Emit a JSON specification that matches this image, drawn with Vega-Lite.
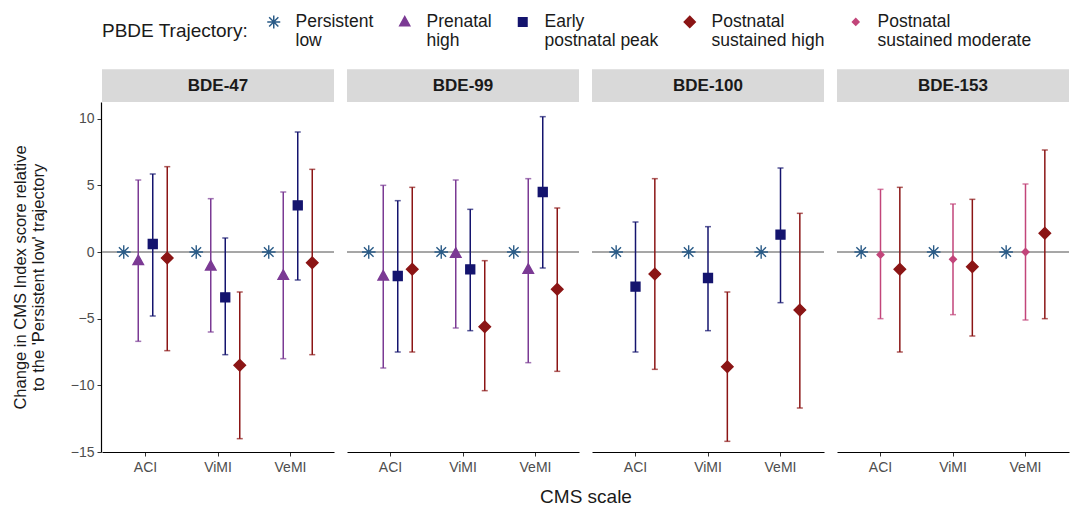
{
  "$schema": "https://vega.github.io/schema/vega-lite/v6.json",
  "padding": {"left": 12, "top": 13, "right": 10, "bottom": 4},
  "background": "white",
  "config": {
    "view": {"stroke": null},
    "font": "Liberation Sans",
    "axis": {"grid": false, "domainColor": "#000000", "tickColor": "#333333", "labelColor": "#4d4d4d", "labelFontSize": 14, "titleColor": "#1a1a1a", "titleFontWeight": "normal"}
  },
  "data": {
    "values": [
      {"congener": "BDE-47", "scale": "ACI", "traj": "Persistent low", "est": 0},
      {"congener": "BDE-47", "scale": "ViMI", "traj": "Persistent low", "est": 0},
      {"congener": "BDE-47", "scale": "VeMI", "traj": "Persistent low", "est": 0},
      {"congener": "BDE-99", "scale": "ACI", "traj": "Persistent low", "est": 0},
      {"congener": "BDE-99", "scale": "ViMI", "traj": "Persistent low", "est": 0},
      {"congener": "BDE-99", "scale": "VeMI", "traj": "Persistent low", "est": 0},
      {"congener": "BDE-100", "scale": "ACI", "traj": "Persistent low", "est": 0},
      {"congener": "BDE-100", "scale": "ViMI", "traj": "Persistent low", "est": 0},
      {"congener": "BDE-100", "scale": "VeMI", "traj": "Persistent low", "est": 0},
      {"congener": "BDE-153", "scale": "ACI", "traj": "Persistent low", "est": 0},
      {"congener": "BDE-153", "scale": "ViMI", "traj": "Persistent low", "est": 0},
      {"congener": "BDE-153", "scale": "VeMI", "traj": "Persistent low", "est": 0},

      {"congener": "BDE-47", "scale": "ACI", "traj": "Prenatal high", "est": -0.65, "lo": -6.7, "hi": 5.4},
      {"congener": "BDE-47", "scale": "ACI", "traj": "Early postnatal peak", "est": 0.6, "lo": -4.8, "hi": 5.85},
      {"congener": "BDE-47", "scale": "ACI", "traj": "Postnatal sustained high", "est": -0.45, "lo": -7.4, "hi": 6.4},
      {"congener": "BDE-47", "scale": "ViMI", "traj": "Prenatal high", "est": -1.05, "lo": -6.0, "hi": 4.0},
      {"congener": "BDE-47", "scale": "ViMI", "traj": "Early postnatal peak", "est": -3.4, "lo": -7.7, "hi": 1.05},
      {"congener": "BDE-47", "scale": "ViMI", "traj": "Postnatal sustained high", "est": -8.5, "lo": -14.0, "hi": -3.0},
      {"congener": "BDE-47", "scale": "VeMI", "traj": "Prenatal high", "est": -1.75, "lo": -8.0, "hi": 4.5},
      {"congener": "BDE-47", "scale": "VeMI", "traj": "Early postnatal peak", "est": 3.5, "lo": -2.1, "hi": 9.0},
      {"congener": "BDE-47", "scale": "VeMI", "traj": "Postnatal sustained high", "est": -0.8, "lo": -7.7, "hi": 6.2},

      {"congener": "BDE-99", "scale": "ACI", "traj": "Prenatal high", "est": -1.8, "lo": -8.7, "hi": 5.0},
      {"congener": "BDE-99", "scale": "ACI", "traj": "Early postnatal peak", "est": -1.8, "lo": -7.5, "hi": 3.85},
      {"congener": "BDE-99", "scale": "ACI", "traj": "Postnatal sustained high", "est": -1.3, "lo": -7.5, "hi": 4.85},
      {"congener": "BDE-99", "scale": "ViMI", "traj": "Prenatal high", "est": -0.1, "lo": -5.7, "hi": 5.4},
      {"congener": "BDE-99", "scale": "ViMI", "traj": "Early postnatal peak", "est": -1.3, "lo": -5.9, "hi": 3.2},
      {"congener": "BDE-99", "scale": "ViMI", "traj": "Postnatal sustained high", "est": -5.6, "lo": -10.4, "hi": -0.65},
      {"congener": "BDE-99", "scale": "VeMI", "traj": "Prenatal high", "est": -1.3, "lo": -8.3, "hi": 5.5},
      {"congener": "BDE-99", "scale": "VeMI", "traj": "Early postnatal peak", "est": 4.5, "lo": -1.2, "hi": 10.15},
      {"congener": "BDE-99", "scale": "VeMI", "traj": "Postnatal sustained high", "est": -2.8, "lo": -8.95, "hi": 3.3},

      {"congener": "BDE-100", "scale": "ACI", "traj": "Early postnatal peak", "est": -2.6, "lo": -7.5, "hi": 2.25},
      {"congener": "BDE-100", "scale": "ACI", "traj": "Postnatal sustained high", "est": -1.65, "lo": -8.8, "hi": 5.5},
      {"congener": "BDE-100", "scale": "ViMI", "traj": "Early postnatal peak", "est": -1.95, "lo": -5.9, "hi": 1.9},
      {"congener": "BDE-100", "scale": "ViMI", "traj": "Postnatal sustained high", "est": -8.6, "lo": -14.2, "hi": -3.0},
      {"congener": "BDE-100", "scale": "VeMI", "traj": "Early postnatal peak", "est": 1.3, "lo": -3.8, "hi": 6.3},
      {"congener": "BDE-100", "scale": "VeMI", "traj": "Postnatal sustained high", "est": -4.35, "lo": -11.7, "hi": 2.9},

      {"congener": "BDE-153", "scale": "ACI", "traj": "Postnatal sustained moderate", "est": -0.2, "lo": -5.0, "hi": 4.7},
      {"congener": "BDE-153", "scale": "ACI", "traj": "Postnatal sustained high", "est": -1.3, "lo": -7.5, "hi": 4.85},
      {"congener": "BDE-153", "scale": "ViMI", "traj": "Postnatal sustained moderate", "est": -0.55, "lo": -4.7, "hi": 3.6},
      {"congener": "BDE-153", "scale": "ViMI", "traj": "Postnatal sustained high", "est": -1.1, "lo": -6.3, "hi": 3.95},
      {"congener": "BDE-153", "scale": "VeMI", "traj": "Postnatal sustained moderate", "est": 0.0, "lo": -5.1, "hi": 5.1},
      {"congener": "BDE-153", "scale": "VeMI", "traj": "Postnatal sustained high", "est": 1.4, "lo": -5.0, "hi": 7.65}
    ]
  },
  "facet": {
    "column": {
      "field": "congener",
      "type": "nominal",
      "sort": ["BDE-47", "BDE-99", "BDE-100", "BDE-153"],
      "header": {"title": "CMS scale", "titleOrient": "bottom", "titleFontSize": 19, "titleColor": "#1a1a1a", "titleFontWeight": "normal", "titlePadding": 4, "labels": false}
    }
  },
  "spacing": 11,
  "resolve": {"scale": {"xOffset": "independent"}},
  "spec": {
    "width": 232,
    "height": 350,
    "encoding": {
      "x": {
        "field": "scale", "type": "nominal",
        "sort": ["ACI", "ViMI", "VeMI"],
        "scale": {"paddingInner": 0.2, "paddingOuter": 0.2},
        "axis": {"title": null, "labelAngle": 0, "labelPadding": 4, "tickSize": 4, "domainWidth": 1.2}
      },
      "xOffset": {
        "field": "traj", "type": "nominal",
        "sort": ["Persistent low", "Prenatal high", "Early postnatal peak", "Postnatal sustained moderate", "Postnatal sustained high"],
        "scale": {"paddingInner": 0, "paddingOuter": 0}
      }
    },
    "layer": [
      {
        "mark": {"type": "rect", "fill": "#d9d9d9", "clip": false},
        "transform": [{"aggregate": [{"op": "count", "as": "n"}], "groupby": ["congener"]}],
        "encoding": {
          "x": {"value": 0},
          "x2": {"value": "width"},
          "xOffset": null,
          "y": {"datum": 11.25, "type": "quantitative"},
          "y2": {"datum": 13.7}
        }
      },
      {
        "mark": {"type": "text", "fontWeight": "bold", "fontSize": 17, "color": "#1a1a1a", "font": "Liberation Sans", "baseline": "middle"},
        "transform": [{"aggregate": [{"op": "count", "as": "n"}], "groupby": ["congener"]}],
        "encoding": {
          "x": {"datum": "ViMI", "type": "nominal"},
          "xOffset": null,
          "y": {"datum": 12.45, "type": "quantitative"},
          "text": {"field": "congener"}
        }
      },
      {
        "mark": {"type": "rule", "color": "#a6a6a6", "strokeWidth": 1},
        "encoding": {"y": {"datum": 0, "type": "quantitative"}, "x": null, "xOffset": null}
      },
      {
        "mark": {"type": "rule", "strokeWidth": 1.5},
        "encoding": {
          "y": {"field": "lo", "type": "quantitative"},
          "y2": {"field": "hi"},
          "stroke": {"field": "traj", "type": "nominal"}
        }
      },
      {
        "mark": {"type": "tick", "orient": "horizontal", "size": 6, "thickness": 1.5},
        "encoding": {
          "y": {"field": "lo", "type": "quantitative"},
          "fill": {"field": "traj", "type": "nominal"}
        }
      },
      {
        "mark": {"type": "tick", "orient": "horizontal", "size": 6, "thickness": 1.5},
        "encoding": {
          "y": {"field": "hi", "type": "quantitative"},
          "fill": {"field": "traj", "type": "nominal"}
        }
      },
      {
        "mark": {"type": "point", "size": 110, "opacity": 1, "strokeWidth": 1.4},
        "encoding": {
          "y": {
            "field": "est", "type": "quantitative",
            "scale": {"domain": [-15, 11.25], "nice": false, "zero": false},
            "axis": {
              "title": ["Change in CMS Index score relative", "to the 'Persistent low' trajectory"],
              "titleFontSize": 16.5, "titlePadding": 24, "titleLineHeight": 18,
              "values": [-15, -10, -5, 0, 5, 10], "tickSize": 4, "labelPadding": 3, "domainWidth": 1.2
            }
          },
          "fill": {
            "field": "traj", "type": "nominal", "title": "PBDE Trajectory:",
            "scale": {"domain": ["Persistent low", "Prenatal high", "Early postnatal peak", "Postnatal sustained high", "Postnatal sustained moderate"], "range": ["#2a5b87", "#7b3a94", "#14146e", "#8b1515", "#c2457a"]}
          },
          "stroke": {
            "field": "traj", "type": "nominal", "title": "PBDE Trajectory:",
            "scale": {"domain": ["Persistent low", "Prenatal high", "Early postnatal peak", "Postnatal sustained high", "Postnatal sustained moderate"], "range": ["#2a5b87", "#7b3a94", "#14146e", "#8b1515", "#c2457a"]}
          },
          "shape": {
            "field": "traj", "type": "nominal", "title": "PBDE Trajectory:",
            "scale": {
              "domain": ["Persistent low", "Prenatal high", "Early postnatal peak", "Postnatal sustained high", "Postnatal sustained moderate"],
              "range": [
                "M-1.3,0L1.3,0M0,-1.3L0,1.3M-0.92,-0.92L0.92,0.92M-0.92,0.92L0.92,-0.92",
                "M0,-1.05L1.0,0.75L-1.0,0.75Z",
                "M-0.85,-0.85L0.85,-0.85L0.85,0.85L-0.85,0.85Z",
                "M0,-1.1L1.1,0L0,1.1L-1.1,0Z",
                "M0,-0.65L0.65,0L0,0.65L-0.65,0Z"
              ]
            },
            "legend": {
              "orient": "top", "direction": "horizontal", "titleOrient": "left",
              "titleFontSize": 19, "titleFontWeight": "normal", "titleColor": "#1a1a1a", "titlePadding": 16,
              "labelFontSize": 17.5, "labelColor": "#1a1a1a", "labelOffset": 13,
              "labelExpr": "[substring(datum.label, 0, indexof(datum.label, ' ')), substring(datum.label, indexof(datum.label, ' ') + 1)]",
              "symbolSize": 100, "symbolStrokeWidth": 1.5, "columnPadding": 22, "offset": 19
            }
          }
        }
      }
    ]
  }
}
